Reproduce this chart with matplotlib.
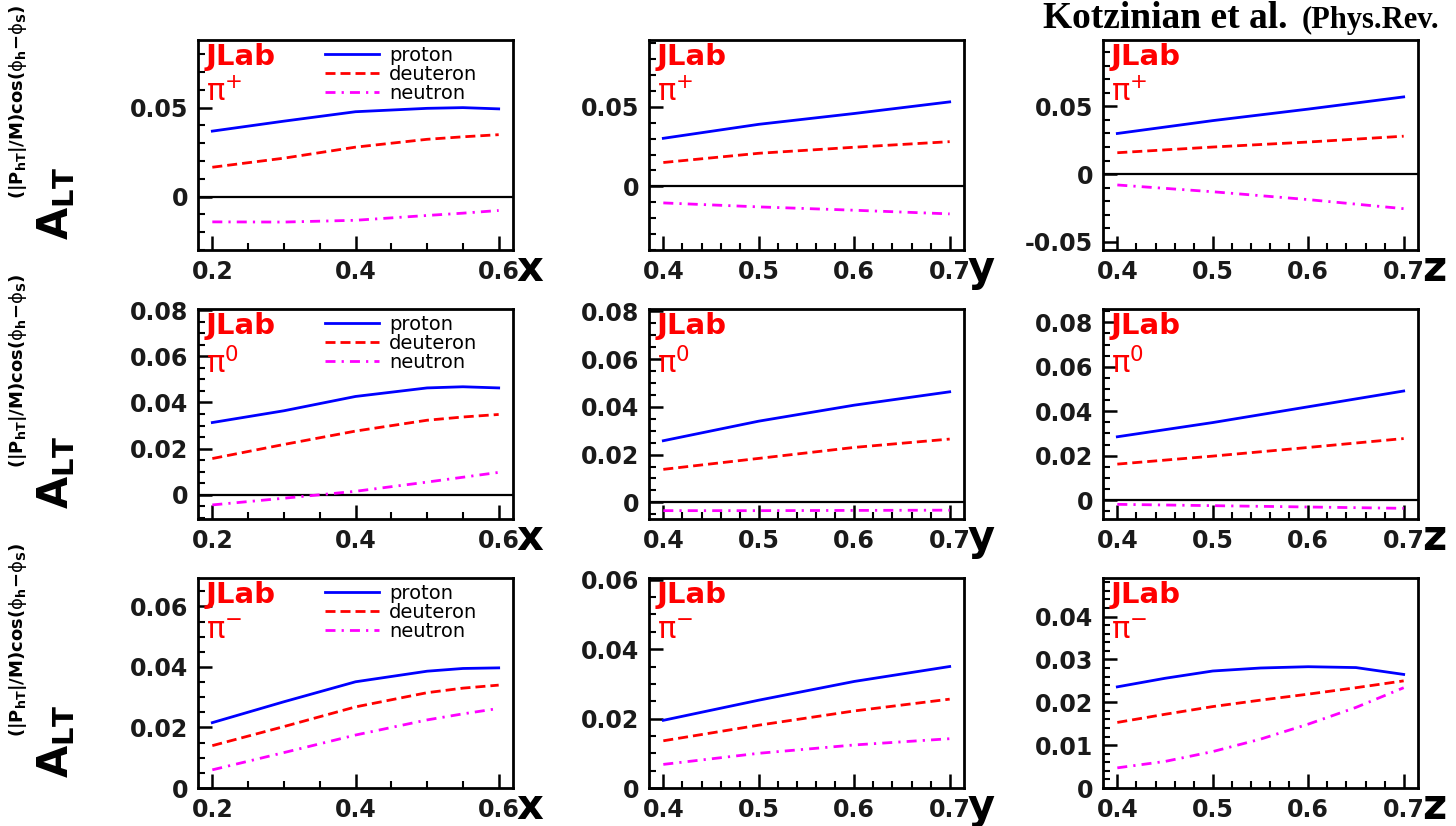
import matplotlib
matplotlib.use('Agg')
import matplotlib.pyplot as plt
from matplotlib.ticker import MultipleLocator, FuncFormatter

plt.rcParams['font.family'] = 'DejaVu Sans'
plt.rcParams['mathtext.fontset'] = 'dejavusans'
plt.rcParams['mathtext.default'] = 'regular'

# ---- data ----
x_pts = [0.2, 0.3, 0.4, 0.5, 0.55, 0.6]
y_pts = [0.4, 0.5, 0.6, 0.7]
z_pts = [0.4, 0.5, 0.6, 0.7]
z_pts_fine = [0.4, 0.45, 0.5, 0.55, 0.6, 0.65, 0.7]

# pi+
pip_x_proton = [0.0368, 0.0424, 0.0477, 0.0496, 0.0500, 0.0493]
pip_x_deuteron = [0.0165, 0.0216, 0.0278, 0.0322, 0.0336, 0.0348]
pip_x_neutron = [-0.0142, -0.0143, -0.0133, -0.0106, -0.0093, -0.0078]
pip_y_proton = [0.0302, 0.0390, 0.0458, 0.0531]
pip_y_deuteron = [0.0150, 0.0208, 0.0246, 0.0281]
pip_y_neutron = [-0.0104, -0.0129, -0.0150, -0.0173]
pip_z_proton = [0.0300, 0.0395, 0.0480, 0.0570]
pip_z_deuteron = [0.0158, 0.0200, 0.0237, 0.0280]
pip_z_neutron = [-0.0080, -0.0130, -0.0188, -0.0255]

# pi0
pi0_x_proton = [0.0313, 0.0364, 0.0426, 0.0463, 0.0468, 0.0463]
pi0_x_deuteron = [0.0157, 0.0218, 0.0276, 0.0323, 0.0337, 0.0348]
pi0_x_neutron = [-0.0044, -0.0015, 0.0015, 0.0055, 0.0076, 0.0097]
pi0_y_proton = [0.0258, 0.0340, 0.0407, 0.0463]
pi0_y_deuteron = [0.0138, 0.0184, 0.0230, 0.0265]
pi0_y_neutron = [-0.0035, -0.0035, -0.0034, -0.0033]
pi0_z_proton = [0.0285, 0.0349, 0.0420, 0.0491]
pi0_z_deuteron = [0.0162, 0.0198, 0.0237, 0.0277]
pi0_z_neutron = [-0.0019, -0.0025, -0.0031, -0.0037]

# pi-
pim_x_proton = [0.0216, 0.0285, 0.0351, 0.0386, 0.0395, 0.0397]
pim_x_deuteron = [0.0140, 0.0203, 0.0268, 0.0315, 0.0330, 0.0340]
pim_x_neutron = [0.0060, 0.0117, 0.0175, 0.0225, 0.0245, 0.0263]
pim_y_proton = [0.0195, 0.0253, 0.0307, 0.0350]
pim_y_deuteron = [0.0136, 0.0181, 0.0222, 0.0256]
pim_y_neutron = [0.0068, 0.0100, 0.0124, 0.0142]
pim_z_proton = [0.0236, 0.0256, 0.0273, 0.0280, 0.0283, 0.0281, 0.0265]
pim_z_deuteron = [0.0153, 0.0172, 0.0190, 0.0205, 0.0219, 0.0234, 0.0250]
pim_z_neutron = [0.0047, 0.0062, 0.0085, 0.0114, 0.0149, 0.0188, 0.0234]

hadrons = [r'$\pi^{+}$', r'$\pi^{0}$', r'$\pi^{-}$']
var_names = ['x', 'y', 'z']
series_names = ['proton', 'deuteron', 'neutron']

panels = [
    [(x_pts, pip_x_proton, pip_x_deuteron, pip_x_neutron),
     (y_pts, pip_y_proton, pip_y_deuteron, pip_y_neutron),
     (z_pts, pip_z_proton, pip_z_deuteron, pip_z_neutron)],
    [(x_pts, pi0_x_proton, pi0_x_deuteron, pi0_x_neutron),
     (y_pts, pi0_y_proton, pi0_y_deuteron, pi0_y_neutron),
     (z_pts, pi0_z_proton, pi0_z_deuteron, pi0_z_neutron)],
    [(x_pts, pim_x_proton, pim_x_deuteron, pim_x_neutron),
     (y_pts, pim_y_proton, pim_y_deuteron, pim_y_neutron),
     (z_pts_fine, pim_z_proton, pim_z_deuteron, pim_z_neutron)],
]

# ---- layout / style ----
ylims = [[(-0.03, 0.088), (-0.04, 0.092), (-0.056, 0.099)],
         [(-0.0105, 0.0805), (-0.007, 0.081), (-0.0085, 0.086)],
         [(0, 0.0694), (0, 0.0605), (0, 0.049)]]
ymaj = [[0.05, 0.05, 0.05], [0.02, 0.02, 0.02], [0.02, 0.02, 0.01]]
ymin = [[0.01, 0.01, 0.01], [0.005, 0.005, 0.005], [0.005, 0.005, 0.002]]
xlims = [(0.18, 0.62), (0.385, 0.715), (0.385, 0.715)]
xmaj = [0.2, 0.1, 0.1]
xmin = [0.05, 0.02, 0.02]

styles = [dict(color='#0000ff', ls='-'),
          dict(color='#ff0000', ls=(0, (3.6, 1.8))),
          dict(color='#ff00ff', ls=(0, (3.6, 2.2, 0.8, 2.2)))]

W, H = 1456., 826.
col_left = [198, 649, 1103]
col_w = 315
row_top = [40, 309, 578]
row_h = 210

fig = plt.figure(figsize=(14.56, 8.26), dpi=100)


def fmt(v, p):
    if abs(v) < 1e-9:
        return '0'
    return '%g' % round(v, 4)


for r in range(3):
    for c in range(3):
        ax = fig.add_axes([col_left[c] / W, 1 - (row_top[r] + row_h) / H,
                           col_w / W, row_h / H])
        xs, p, d, n = panels[r][c]
        for vals, st, name in zip((p, d, n), styles, series_names):
            ax.plot(xs, vals, lw=2, label=name, **st)
        if ylims[r][c][0] < 0:
            ax.axhline(0, color='black', lw=1.6, zorder=1)
        ax.set_xlim(*xlims[c])
        ax.set_ylim(*ylims[r][c])
        ax.xaxis.set_major_locator(MultipleLocator(xmaj[c]))
        ax.xaxis.set_minor_locator(MultipleLocator(xmin[c]))
        ax.yaxis.set_major_locator(MultipleLocator(ymaj[r][c]))
        ax.yaxis.set_minor_locator(MultipleLocator(ymin[r][c]))
        ax.xaxis.set_major_formatter(FuncFormatter(fmt))
        ax.yaxis.set_major_formatter(FuncFormatter(fmt))
        ax.tick_params(which='major', direction='in', length=10, width=1.8,
                       labelsize=17, pad=7)
        ax.tick_params(which='minor', direction='in', length=5, width=1.5)
        for lab in ax.get_xticklabels() + ax.get_yticklabels():
            lab.set_fontweight('bold')
            lab.set_color('#1a1a1a')
        for sp in ax.spines.values():
            sp.set_linewidth(2)
        ax.text(0.025, 0.985, 'JLab', transform=ax.transAxes, color='red',
                fontsize=21, fontweight='bold', va='top', ha='left')
        ax.text(0.025, 0.82, hadrons[r], transform=ax.transAxes, color='red',
                fontsize=22, va='top', ha='left')
        ax.text(1.012, -0.09, var_names[c], transform=ax.transAxes,
                fontsize=30, fontweight='bold', va='center', ha='left')
        if c == 0:
            ax.legend(loc='upper left', bbox_to_anchor=(0.36, 1.035),
                      frameon=False, fontsize=14, handlelength=2.8,
                      handletextpad=0.5, labelspacing=0.0, borderpad=0.2)

    # y axis title: A_LT with its azimuthal-modulation superscript
    fig.text(56 / W, 1 - (240 + 269 * r) / H, r'$\mathbf{A_{LT}}$',
             rotation=90, fontsize=30, ha='center', va='bottom')
    fig.text(18 / W, 1 - (199 + 269 * r) / H,
             r'$\mathbf{(|P_{hT}|/M)cos(}\phi_{\mathbf{h}}\mathbf{-}\phi_{\mathbf{S}}\mathbf{)}$',
             rotation=90, fontsize=13, ha='center', va='bottom')

fig.text(1043 / W, 1 - 28 / H, 'Kotzinian et al.', family='Liberation Serif',
         fontweight='bold', fontsize=27, va='baseline', ha='left')
fig.text(1302 / W, 1 - 28 / H, '(Phys.Rev.', family='Liberation Serif',
         fontweight='bold', fontsize=22, va='baseline', ha='left')

fig.savefig('out.png', dpi=100)
